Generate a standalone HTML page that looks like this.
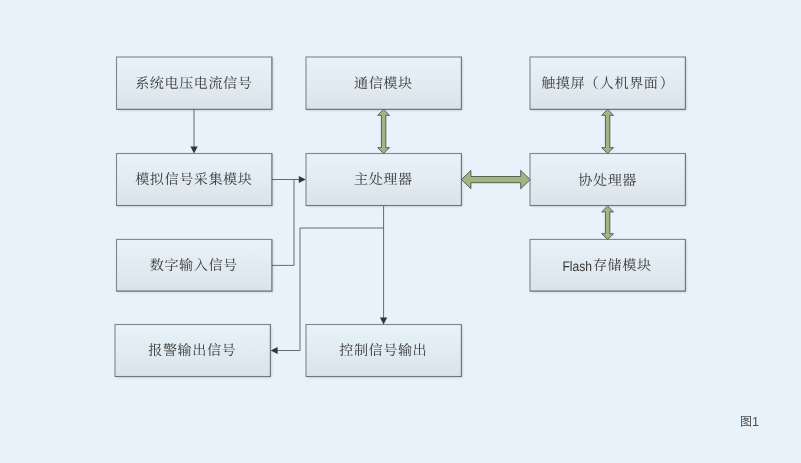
<!DOCTYPE html>
<html lang="zh-CN"><head><meta charset="utf-8"><title>图1</title>
<style>
html,body{margin:0;padding:0;background:#e7f2fb;}
body{width:801px;height:463px;overflow:hidden;position:relative;}
svg{position:absolute;left:0;top:0;display:block;}
.t{font-family:"Liberation Serif","Noto Serif CJK SC",serif;font-size:14.1px;font-weight:400;fill:#383838;text-anchor:middle;letter-spacing:0.57px;}
text{text-rendering:geometricPrecision;}
#txt,#cap{will-change:opacity;opacity:0.999;}
.s{font-family:"Liberation Sans","Noto Sans CJK SC",sans-serif;}
.ln{fill:none;stroke:#43464b;stroke-opacity:0.78;stroke-width:1;}
.ah{fill:#33363a;}
.ga{fill:#a1b486;stroke:#56624b;stroke-width:1;stroke-linejoin:miter;}
</style></head><body>
<svg width="801" height="463" viewBox="0 0 801 463">
<defs>
<linearGradient id="g" x1="0" y1="0" x2="0" y2="1">
<stop offset="0" stop-color="#e8f2fa"/><stop offset="0.5" stop-color="#e1ebf1"/><stop offset="1" stop-color="#d9e3e9"/>
</linearGradient>
<filter id="sh" x="-5%" y="-10%" width="112%" height="125%"><feGaussianBlur stdDeviation="0.8"/></filter>
</defs>
<rect width="801" height="463" fill="#e7f2fb"/>

<rect x="117.7" y="58.2" width="155.4" height="52.4" fill="#b9c2cc" filter="url(#sh)" opacity="0.7"/>
<rect x="116.5" y="57" width="155.4" height="52.4" fill="url(#g)" stroke="#80868d" stroke-width="1.1"/>
<path d="M116.5 109.4 H271.9 V57" fill="none" stroke="#5c6268" stroke-opacity="0.45" stroke-width="1.1"/>
<rect x="117.7" y="154.7" width="155.4" height="52" fill="#b9c2cc" filter="url(#sh)" opacity="0.7"/>
<rect x="116.5" y="153.5" width="155.4" height="52" fill="url(#g)" stroke="#80868d" stroke-width="1.1"/>
<path d="M116.5 205.5 H271.9 V153.5" fill="none" stroke="#5c6268" stroke-opacity="0.45" stroke-width="1.1"/>
<rect x="117.7" y="240.6" width="155.4" height="51.7" fill="#b9c2cc" filter="url(#sh)" opacity="0.7"/>
<rect x="116.5" y="239.4" width="155.4" height="51.7" fill="url(#g)" stroke="#80868d" stroke-width="1.1"/>
<path d="M116.5 291.1 H271.9 V239.4" fill="none" stroke="#5c6268" stroke-opacity="0.45" stroke-width="1.1"/>
<rect x="116.2" y="325.7" width="155.4" height="52" fill="#b9c2cc" filter="url(#sh)" opacity="0.7"/>
<rect x="115" y="324.5" width="155.4" height="52" fill="url(#g)" stroke="#80868d" stroke-width="1.1"/>
<path d="M115 376.5 H270.4 V324.5" fill="none" stroke="#5c6268" stroke-opacity="0.45" stroke-width="1.1"/>
<rect x="307.2" y="58.2" width="155.4" height="52.4" fill="#b9c2cc" filter="url(#sh)" opacity="0.7"/>
<rect x="306" y="57" width="155.4" height="52.4" fill="url(#g)" stroke="#80868d" stroke-width="1.1"/>
<path d="M306 109.4 H461.4 V57" fill="none" stroke="#5c6268" stroke-opacity="0.45" stroke-width="1.1"/>
<rect x="307.2" y="154.7" width="155.4" height="52" fill="#b9c2cc" filter="url(#sh)" opacity="0.7"/>
<rect x="306" y="153.5" width="155.4" height="52" fill="url(#g)" stroke="#80868d" stroke-width="1.1"/>
<path d="M306 205.5 H461.4 V153.5" fill="none" stroke="#5c6268" stroke-opacity="0.45" stroke-width="1.1"/>
<rect x="307.2" y="325.7" width="155.4" height="52" fill="#b9c2cc" filter="url(#sh)" opacity="0.7"/>
<rect x="306" y="324.5" width="155.4" height="52" fill="url(#g)" stroke="#80868d" stroke-width="1.1"/>
<path d="M306 376.5 H461.4 V324.5" fill="none" stroke="#5c6268" stroke-opacity="0.45" stroke-width="1.1"/>
<rect x="531.2" y="58.2" width="155.4" height="52.4" fill="#b9c2cc" filter="url(#sh)" opacity="0.7"/>
<rect x="530" y="57" width="155.4" height="52.4" fill="url(#g)" stroke="#80868d" stroke-width="1.1"/>
<path d="M530 109.4 H685.4 V57" fill="none" stroke="#5c6268" stroke-opacity="0.45" stroke-width="1.1"/>
<rect x="531.2" y="154.7" width="155.4" height="52" fill="#b9c2cc" filter="url(#sh)" opacity="0.7"/>
<rect x="530" y="153.5" width="155.4" height="52" fill="url(#g)" stroke="#80868d" stroke-width="1.1"/>
<path d="M530 205.5 H685.4 V153.5" fill="none" stroke="#5c6268" stroke-opacity="0.45" stroke-width="1.1"/>
<rect x="531.2" y="240.6" width="155.4" height="51.7" fill="#b9c2cc" filter="url(#sh)" opacity="0.7"/>
<rect x="530" y="239.4" width="155.4" height="51.7" fill="url(#g)" stroke="#80868d" stroke-width="1.1"/>
<path d="M530 291.1 H685.4 V239.4" fill="none" stroke="#5c6268" stroke-opacity="0.45" stroke-width="1.1"/>
<g id="txt">
<text class="t" x="193.8" y="87.8">系统电压电流信号</text>
<text class="t" x="193.8" y="184.3">模拟信号采集模块</text>
<text class="t" x="193.8" y="269.8">数字输入信号</text>
<text class="t" x="192.3" y="355.3">报警输出信号</text>
<text class="t" x="383.3" y="87.8">通信模块</text>
<text class="t" x="383.3" y="184.3">主处理器</text>
<text class="t" x="383.3" y="355.3">控制信号输出</text>
<text class="t" x="607.8" y="87.8">触摸屏<tspan dx="-0.7">（</tspan><tspan dx="0.7">人机界面</tspan><tspan dx="1.3">）</tspan></text>
<text class="t" x="607.7" y="184.6">协处理器</text>
<text class="s" x="562.5" y="271" style="font-size:13.8px;fill:#333" textLength="29.5" lengthAdjust="spacingAndGlyphs">Flash</text>
<text class="t" x="592.9" y="269.8" style="text-anchor:start">存储模块</text>
</g>
<path class="ln" d="M194 109.5 V147"/><path class="ah" d="M190.4 146.6 L197.7 146.6 L194.05 153.5 Z"/>
<path class="ln" d="M272 179.5 H299"/><path class="ah" d="M298.8 175.9 L305.8 179.5 L298.8 183.1 Z"/>
<path class="ln" d="M272 265.4 H294 V179.5"/>
<path class="ln" d="M383.6 206 V318"/><path class="ah" d="M379.9 317.6 L387.2 317.6 L383.55 324.5 Z"/>
<path class="ln" d="M383.6 228 H300 V350.5 H277"/><path class="ah" d="M277.6 346.9 L270.7 350.5 L277.6 354.1 Z"/>
<path class="ga" d="M383.6 109.4 L389.5 115.3 L385.8 115.3 L385.8 147.7 L389.5 147.7 L383.6 153.6 L377.7 147.7 L381.4 147.7 L381.4 115.3 L377.7 115.3 Z"/>
<path class="ga" d="M607.6 109.4 L613.5 115.3 L609.8 115.3 L609.8 147.7 L613.5 147.7 L607.6 153.6 L601.7 147.7 L605.4 147.7 L605.4 115.3 L601.7 115.3 Z"/>
<path class="ga" d="M607.6 206 L613.5 211.9 L609.8 211.9 L609.8 233.7 L613.5 233.7 L607.6 239.6 L601.7 233.7 L605.4 233.7 L605.4 211.9 L601.7 211.9 Z"/>
<path class="ga" d="M461.4 179.6 L470.9 170.4 L470.9 176.5 L520.7 176.5 L520.7 170.4 L530.2 179.6 L520.7 188.8 L520.7 182.7 L470.9 182.7 L470.9 188.8 Z"/>
<g id="cap"><text class="s" x="740" y="426" style="font-size:12px;fill:#4c4c4c;text-rendering:auto">图<tspan style="font-size:12.6px">1</tspan></text></g>
</svg></body></html>
